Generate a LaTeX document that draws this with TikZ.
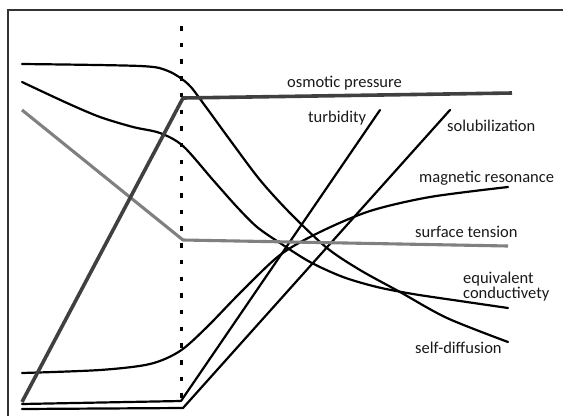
\documentclass[tikz,border=0pt]{standalone}
\usepackage{fontspec}
\setmainfont{Carlito}
\begin{document}
\begin{tikzpicture}[x=1pt,y=-1pt,
  curve/.style={draw=black,line width=2.2pt,line cap=round,line join=round},
  osmo/.style={draw=black!75,line width=3.6pt,line join=round},
  surf/.style={draw=black!50,line width=3.1pt,line join=round},
  lbl/.style={inner sep=0pt,anchor=base west,font=\fontsize{16.5}{18}\selectfont,text=black!90},
  frameline/.style={draw=black!80,line width=1.6pt}]
\useasboundingbox (0,0) rectangle (563,416);
% frame
\draw[frameline] (563,10) -- (8,10) -- (8,416);
% dotted vertical line
\draw[line width=2.6pt,dash pattern=on 4.5pt off 12.2pt] (181.5,26) -- (181.5,398);
% self-diffusion
\draw[curve] plot[smooth,tension=0.5] coordinates {(22,64) (140,66) (168,71) (188,84) (203,103) (230,140) (260,180) (290,213) (327,248) (360,270) (400,292) (447,318) (508,342)};
% equivalent conductivety
\draw[curve] plot[smooth,tension=0.5] coordinates {(22,82) (67,103) (100,117) (133,127) (160,133) (183,146) (213,180) (237,207) (257,227) (280,243) (310,262) (343,277) (377,287) (413,294) (460,301) (508,308)};
% magnetic resonance
\draw[curve] plot[smooth,tension=0.5] coordinates {(22,373) (100,370) (150,364) (180,351) (207,327) (240,293) (280,255) (320,232) (370,211) (430,197) (508,187)};
% turbidity
\draw[curve] (22,404) -- (181,401) -- (380,110);
% solubilization
\draw[curve] (22,409) -- (183,408) -- (450,110);
% surface tension
\draw[surf] (22,110) -- (183,240) -- (508,246);
% osmotic pressure
\draw[osmo] (22,402) -- (183,98) -- (512,93);
% labels
\node[lbl] (op) at (287,87) {osmotic pressure};
\node[lbl] (tu) at (308,122) {turbidity};
\node[lbl] (so) at (447,131) {solubilization};
\node[lbl] (mr) at (419,182) {magnetic resonance};
\node[lbl] (st) at (415,237) {surface tension};
\node[lbl] (ec1) at (463,283) {equivalent};
\node[lbl] (ec2) at (463,298) {conductivety};
\node[lbl] (sd) at (415,353) {self-diffusion};
\end{tikzpicture}
\end{document}
